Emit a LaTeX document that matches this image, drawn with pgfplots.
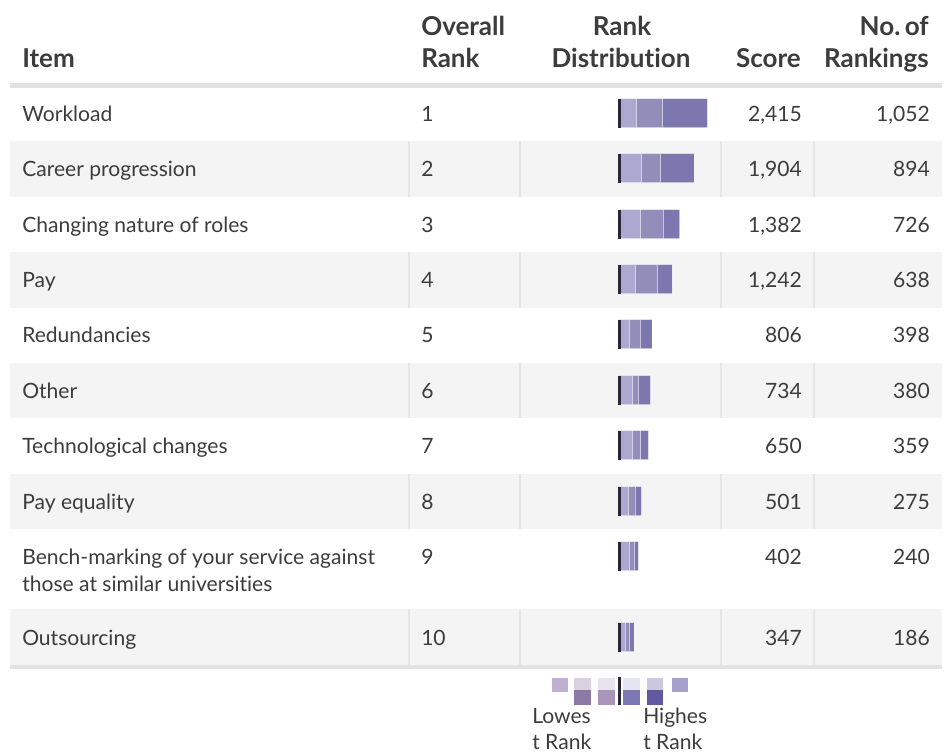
\documentclass[border=0pt]{standalone}
\usepackage{pgfplots}
\usepackage{pgfplotstable}
\pgfplotsset{compat=1.18}
\usepackage{fontspec}
\setmainfont[Ligatures=NoCommon]{Lato}
\definecolor{txt}{HTML}{3C3C3C}
\definecolor{rowbg}{HTML}{F4F4F4}
\definecolor{sepc}{HTML}{E6E6E6}
\definecolor{rulec}{HTML}{E2E2E2}
\definecolor{lightc}{HTML}{ABA9CF}
\definecolor{midc}{HTML}{928DB9}
\definecolor{darkc}{HTML}{7C77AE}
\definecolor{zeroc}{HTML}{2A2838}
\newcommand\headf{\fontsize{19.5}{24}\selectfont\bfseries}
\newcommand\bodyf{\fontsize{15.8}{20}\selectfont}

% rank distribution: c = 3rd choice (lowest), b = 2nd, a = 1st (highest)
\pgfplotstableread{
y   c   b   a
113 219 303 530
168 278 222 394
224 267 262 197
279 207 258 173
334 128 132 138
390 173 60  147
445 163 101 95
501 124 76  75
556 130 58  52
637 83  45  58
}\bars

\newcommand\shaderow[2]{%
  \fill[rowbg] (axis cs:10,#1) rectangle (axis cs:942,#2);
  \fill[sepc] (axis cs:408.2,#1) rectangle (axis cs:409.8,#2);
  \fill[sepc] (axis cs:519.2,#1) rectangle (axis cs:520.8,#2);
  \fill[sepc] (axis cs:720.2,#1) rectangle (axis cs:721.8,#2);
  \fill[sepc] (axis cs:813.2,#1) rectangle (axis cs:814.8,#2);
}
\newcommand\rowtext[5]{%
  \node[anchor=base west,inner sep=0pt,text=txt,font=\bodyf] at (axis cs:22,#1) {#2};
  \node[anchor=base west,inner sep=0pt,text=txt,font=\bodyf] at (axis cs:421,#1) {#3};
  \node[anchor=base east,inner sep=0pt,text=txt,font=\bodyf] at (axis cs:802,#1) {#4};
  \node[anchor=base east,inner sep=0pt,text=txt,font=\bodyf] at (axis cs:930,#1) {#5};
}
\newcommand\zeroline[2]{%
  \fill[zeroc] (axis cs:618,#1) rectangle (axis cs:620.8,#2);
}
\pgfplotsset{pxaxis/.style={at={(0pt,0pt)}, anchor=south west,
  scale only axis, width=708pt, height=565.5pt,
  xmin=0, xmax=944, ymin=0, ymax=754, y dir=reverse,
  axis lines=none, ticks=none, clip=false}}

\begin{document}
\begin{tikzpicture}
\begin{axis}[pxaxis]
\path (axis cs:0,0) rectangle (axis cs:944,754);
% shaded rows
\shaderow{141}{197}
\shaderow{252}{308}
\shaderow{363}{418}
\shaderow{474}{529}
\shaderow{609}{665}
% rules
\fill[rulec] (axis cs:10,83) rectangle (axis cs:942,88);
\fill[rulec] (axis cs:10,665) rectangle (axis cs:942,668.5);
% header
\begin{scope}[every node/.style={inner sep=0pt, text=txt, font=\headf}]
\node[anchor=base west] at (axis cs:421,35) {Overall};
\node[anchor=base west] at (axis cs:421,67) {Rank};
\node[anchor=base west] at (axis cs:22,67) {Item};
\node[anchor=base] at (axis cs:622,35) {Rank};
\node[anchor=base] at (axis cs:621,67) {Distribution};
\node[anchor=base east] at (axis cs:801,67) {Score};
\node[anchor=base east] at (axis cs:929,35) {No.\,of};
\node[anchor=base east] at (axis cs:929,67) {Rankings};
\end{scope}
% body
\rowtext{121}{Workload}{1}{2,415}{1,052}
\rowtext{176}{Career progression}{2}{1,904}{894}
\rowtext{232}{Changing nature of roles}{3}{1,382}{726}
\rowtext{287}{Pay}{4}{1,242}{638}
\rowtext{342}{Redundancies}{5}{806}{398}
\rowtext{398}{Other}{6}{734}{380}
\rowtext{453}{Technological changes}{7}{650}{359}
\rowtext{509}{Pay equality}{8}{501}{275}
\rowtext{564}{Bench-marking of your service against}{9}{402}{240}
\rowtext{645}{Outsourcing}{10}{347}{186}
\node[anchor=base west,inner sep=0pt,text=txt,font=\bodyf] at (axis cs:22,591) {those at similar universities};
% legend
\node[anchor=base west,inner sep=0pt,text=txt,font=\bodyf] at (axis cs:532,723) {Lowes};
\node[anchor=base west,inner sep=0pt,text=txt,font=\bodyf] at (axis cs:532,749) {t Rank};
\node[anchor=base west,inner sep=0pt,text=txt,font=\bodyf] at (axis cs:643,723) {Highes};
\node[anchor=base west,inner sep=0pt,text=txt,font=\bodyf] at (axis cs:643,749) {t Rank};
\fill[fill={rgb,255:red,191;green,176;blue,210}] (axis cs:551.7,677.7) rectangle (axis cs:568.3,691.7);
\fill[fill={rgb,255:red,217;green,208;blue,226}] (axis cs:574.3,677.7) rectangle (axis cs:591,690);
\fill[fill={rgb,255:red,142;green,120;blue,166}] (axis cs:574.3,690) rectangle (axis cs:591,705);
\fill[fill={rgb,255:red,232;green,228;blue,239}] (axis cs:598.3,677.7) rectangle (axis cs:615,690);
\fill[fill={rgb,255:red,168;green,149;blue,185}] (axis cs:598.3,690) rectangle (axis cs:615,705);
\fill[zeroc] (axis cs:618.3,676.7) rectangle (axis cs:621.3,705);
\fill[fill={rgb,255:red,229;green,228;blue,241}] (axis cs:623.3,677.7) rectangle (axis cs:640,690);
\fill[fill={rgb,255:red,123;green,121;blue,177}] (axis cs:623.3,690) rectangle (axis cs:640,705);
\fill[fill={rgb,255:red,202;green,199;blue,225}] (axis cs:646.7,677.7) rectangle (axis cs:663.3,690);
\fill[fill={rgb,255:red,95;green,90;blue,160}] (axis cs:646.7,690) rectangle (axis cs:663.3,705);
\fill[fill={rgb,255:red,164;green,161;blue,205}] (axis cs:671.7,677.7) rectangle (axis cs:688.3,691.7);
\end{axis}

\begin{axis}[at={(463.5pt,0pt)}, anchor=south west,
  scale only axis, width=66.98pt, height=565.5pt,
  xmin=0, xmax=1052, ymin=0, ymax=754, y dir=reverse,
  axis lines=none, ticks=none, clip=false,
  xbar stacked, bar width=21.75pt]
\addplot[fill=lightc, draw=white, draw opacity=0.35, line width=0.4pt] table[x=c, y=y] {\bars};
\addplot[fill=midc, draw=white, draw opacity=0.35, line width=0.4pt] table[x=b, y=y] {\bars};
\addplot[fill=darkc, draw=white, draw opacity=0.35, line width=0.4pt] table[x=a, y=y] {\bars};
\end{axis}

% zero lines over the bars
\begin{axis}[pxaxis]
\zeroline{98.5}{127.5}
\zeroline{153.5}{182.5}
\zeroline{209.5}{238.5}
\zeroline{264.5}{293.5}
\zeroline{319.5}{348.5}
\zeroline{375.5}{404.5}
\zeroline{430.5}{459.5}
\zeroline{486.5}{515.5}
\zeroline{541.5}{570.5}
\zeroline{622.5}{651.5}
\end{axis}
\end{tikzpicture}
\end{document}
